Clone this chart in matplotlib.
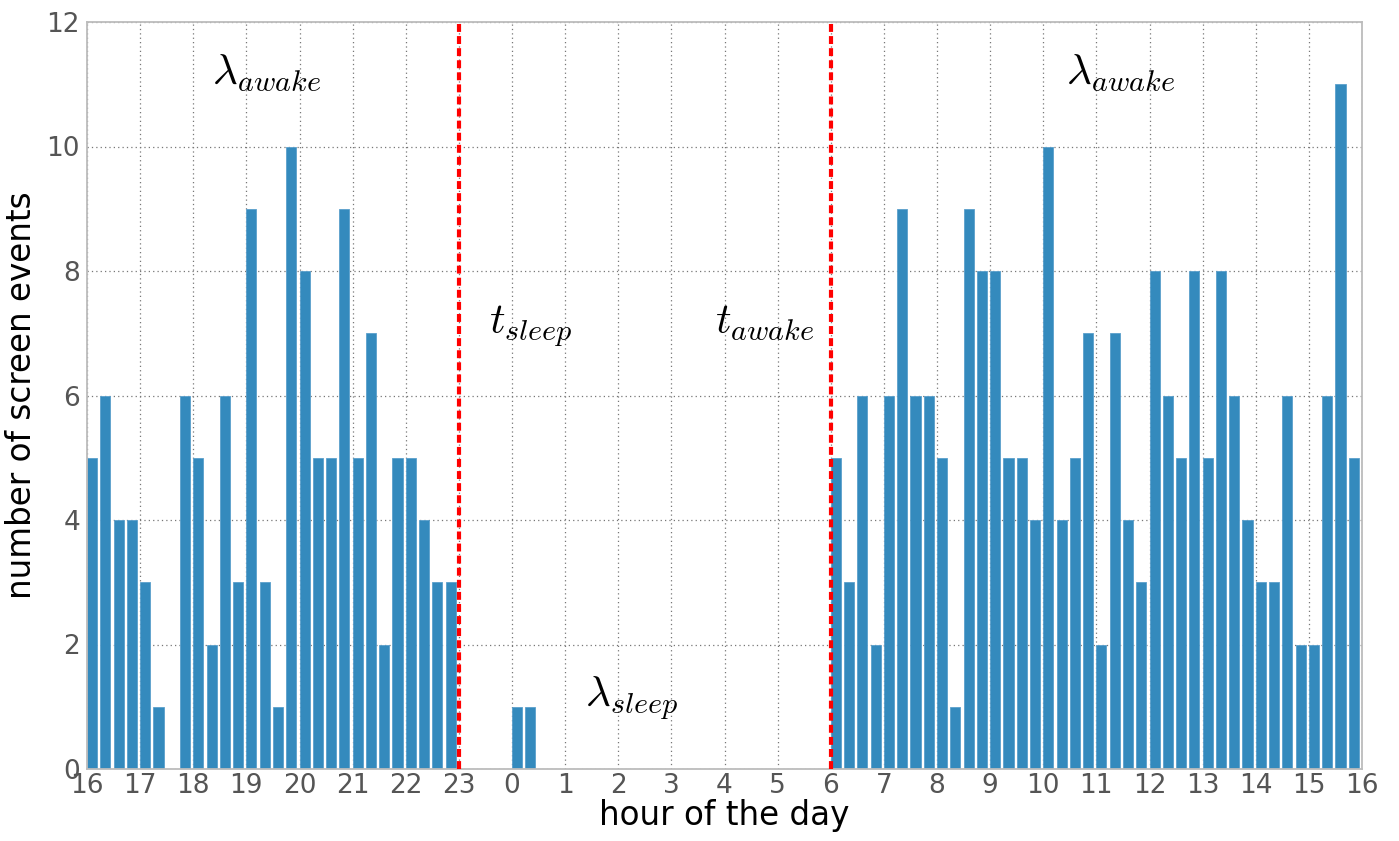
import matplotlib
matplotlib.use("Agg")
import matplotlib.pyplot as plt
import numpy as np

# counts of screen events per 15-minute bin, starting at 16:00
counts_evening = [5, 6, 4, 4, 3, 1, 0, 6, 5, 2, 6, 3, 9, 3, 1, 10, 8, 5, 5, 9, 5, 7, 2, 5, 5, 4, 3, 3]
counts_night = [0, 0, 0, 0, 1, 1, 0, 0, 0, 0, 0, 0, 0, 0, 0, 0, 0, 0, 0, 0, 0, 0, 0, 0, 0, 0, 0, 0]
counts_day = [5, 3, 6, 2, 6, 9, 6, 6, 5, 1, 9, 8, 8, 5, 5, 4, 10, 4, 5, 7, 2, 7, 4, 3,
              8, 6, 5, 8, 5, 8, 6, 4, 3, 3, 6, 2, 2, 6, 11, 5]
hour_labels = ["16", "17", "18", "19", "20", "21", "22", "23", "0", "1", "2", "3", "4",
               "5", "6", "7", "8", "9", "10", "11", "12", "13", "14", "15", "16"]
t_sleep_offset = 7    # 23:00
t_awake_offset = 14   # 06:00
bin_hours = 0.25

counts = counts_evening + counts_night + counts_day
x = np.arange(len(counts)) * bin_hours

plt.rcParams['mathtext.fontset'] = 'cm'

fig = plt.figure(figsize=(13.99, 8.41), dpi=100)
ax = fig.add_axes([87/1399, 1-769/841, (1362-87)/1399, (769-22)/841])

ax.bar(x, counts, width=0.19, align='edge', color='#348ABD', edgecolor='#5a9fcc', linewidth=0.6, zorder=2)

for off in (t_sleep_offset, t_awake_offset):
    ax.axvline(off, color='#ff0000', linewidth=3, linestyle=(0, (1.9, 1.0)), zorder=3)

ax.set_xlim(0, 24)
ax.set_ylim(0, 12)
ax.set_xticks(np.arange(25))
ax.set_xticklabels(hour_labels)
ax.set_yticks(np.arange(0, 13, 2))

ax.grid(True, color='#777777', linestyle=(0, (1, 2.5)), linewidth=0.9)
ax.set_axisbelow(True)
for s in ax.spines.values():
    s.set_color('#bcbcbc')
    s.set_linewidth(1.3)
ax.tick_params(length=0, labelsize=19, labelcolor='#555555')
ax.tick_params(axis='x', pad=3)
ax.tick_params(axis='y', pad=5)

ax.set_xlabel('hour of the day', fontsize=23.5, labelpad=0)
ax.set_ylabel('number of screen events', fontsize=23.5, labelpad=6)

fs = 31
ax.text(2.35, 11, r'$\lambda_{awake}$', fontsize=fs, ha='left', va='baseline')
ax.text(18.42, 11, r'$\lambda_{awake}$', fontsize=fs, ha='left', va='baseline')
ax.text(7.57, 7, r'$t_{sleep}$', fontsize=fs, ha='left', va='baseline')
ax.text(11.83, 7, r'$t_{awake}$', fontsize=fs, ha='left', va='baseline')
ax.text(9.38, 1, r'$\lambda_{sleep}$', fontsize=fs, ha='left', va='baseline')

fig.savefig('out.png', dpi=100)
